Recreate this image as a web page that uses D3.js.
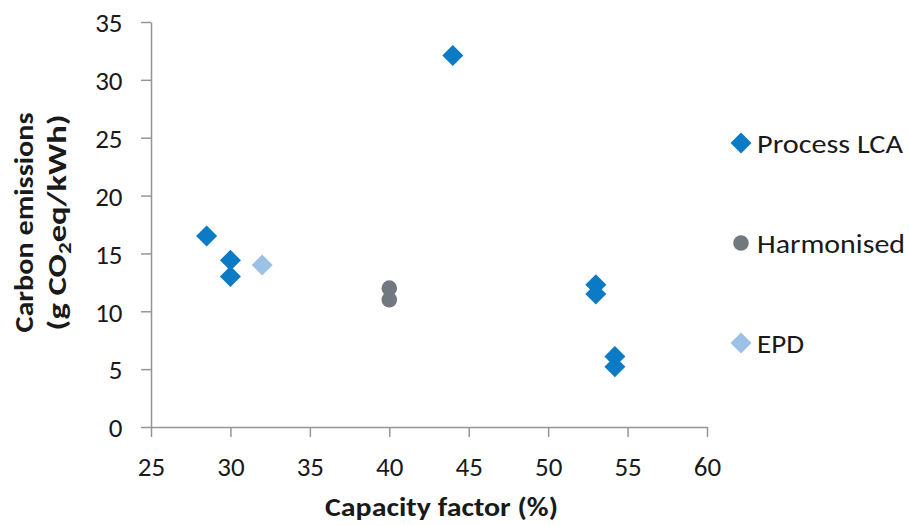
<!DOCTYPE html>
<html>
<head>
<meta charset="utf-8">
<script src="https://cdn.jsdelivr.net/npm/d3@7"></script>
<style>
  body { margin: 0; background: #fff; }
  svg { display: block; }
  text { font-family: Carlito, Calibri, Lato, sans-serif; fill: #1a1a1a; }
</style>
</head>
<body>
<svg id="chart" width="909" height="526"></svg>
<script>
// ---- data ----
const seriesNames = ["Process LCA", "Harmonised", "EPD"];
const processLCA = [
  {x: 28.5, y: 16.5}, {x: 30, y: 14.4}, {x: 30, y: 13.0}, {x: 44, y: 32.1},
  {x: 53, y: 12.3}, {x: 53, y: 11.5}, {x: 54.2, y: 6.1}, {x: 54.2, y: 5.2}
];
const harmonised = [{x: 40, y: 12.0}, {x: 40, y: 11.0}];
const epd = [{x: 32, y: 14.0}];
const xTicks = [25, 30, 35, 40, 45, 50, 55, 60];
const yTicks = [0, 5, 10, 15, 20, 25, 30, 35];

const colors = {"Process LCA": "#0a7bc4", "Harmonised": "#737880", "EPD": "#9dc0e6"};
const shapes = {"Process LCA": "diamond", "Harmonised": "circle", "EPD": "diamond"};
const seriesData = {"Process LCA": processLCA, "Harmonised": harmonised, "EPD": epd};

const svg = d3.select("#chart");
const x = d3.scaleLinear().domain([25, 60]).range([151, 707]);
const y = d3.scaleLinear().domain([0, 35]).range([427, 22]);
const axisColor = "#959595";

// axes
const gx = svg.append("g").attr("transform", "translate(0,427)")
  .call(d3.axisBottom(x).tickValues(xTicks).tickSize(10).tickSizeOuter(0));
gx.selectAll("text").attr("y", 49).attr("dy", 0)
  .style("font-size", "27px");
const gy = svg.append("g").attr("transform", "translate(151,0)")
  .call(d3.axisLeft(y).tickValues(yTicks).tickSize(10).tickSizeOuter(0));
gy.selectAll("text").attr("x", -28.5).attr("dy", "0.36em")
  .style("font-size", "27px");
[gx, gy].forEach(g => {
  g.attr("font-family", null).attr("font-size", null);
  g.selectAll("path, line").attr("stroke", axisColor).attr("stroke-width", 1.5);
  g.selectAll("text").attr("fill", "#1a1a1a");
});

// markers
function drawMarker(sel, shape, color) {
  if (shape === "diamond") {
    sel.append("path").attr("d", "M0,-10.5L10.5,0L0,10.5L-10.5,0Z").attr("fill", color);
  } else {
    sel.append("circle").attr("r", 7.8).attr("fill", color);
  }
}
seriesNames.forEach(name => {
  svg.append("g").selectAll("g").data(seriesData[name]).join("g")
    .attr("transform", d => `translate(${x(d.x)},${y(d.y)})`)
    .each(function() { drawMarker(d3.select(this), shapes[name], colors[name]); });
});

// legend
const legendY = [143, 243, 343];
const legendLen = [146, 148, 47];
seriesNames.forEach((name, i) => {
  const g = svg.append("g").attr("transform", `translate(741,${legendY[i]})`);
  drawMarker(g, shapes[name], colors[name]);
  g.append("text").attr("x", 16).attr("y", 9.7).style("font-size", "27px")
    .attr("textLength", legendLen[i]).attr("lengthAdjust", "spacingAndGlyphs")
    .text(name);
});

// x title
svg.append("text").attr("x", 441.5).attr("y", 516).attr("text-anchor", "middle")
  .style("font-size", "27px").style("font-weight", "bold")
  .attr("textLength", 233).attr("lengthAdjust", "spacingAndGlyphs")
  .text("Capacity factor (%)");

// y title
const yt = svg.append("g").attr("transform", "translate(33,222.5) rotate(-90)");
yt.append("text").attr("x", 0).attr("y", 0).attr("text-anchor", "middle")
  .style("font-size", "27px").style("font-weight", "bold")
  .attr("textLength", 220).attr("lengthAdjust", "spacingAndGlyphs")
  .text("Carbon emissions");
const t2 = yt.append("text").attr("x", 0).attr("y", 33).attr("text-anchor", "middle")
  .style("font-size", "27px").style("font-weight", "bold")
  .attr("textLength", 216).attr("lengthAdjust", "spacingAndGlyphs");
t2.append("tspan").text("(g CO");
t2.append("tspan").style("font-size", "18px").attr("dy", 5).text("2");
t2.append("tspan").attr("dy", -5).text("eq/kWh)");
</script>
</body>
</html>
